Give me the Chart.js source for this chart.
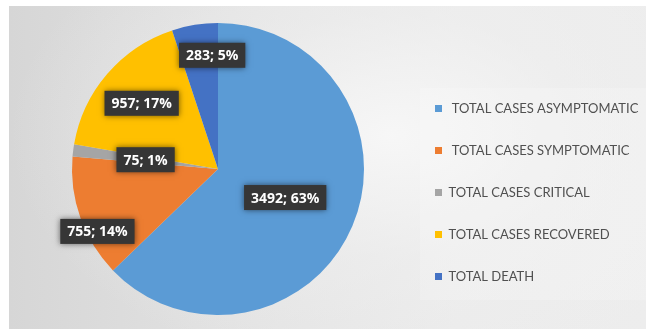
<!DOCTYPE html>
<html>
<head>
<meta charset="utf-8">
<script src="https://cdn.jsdelivr.net/npm/chart.js@4.4.0/dist/chart.umd.min.js"></script>
<style>
  html, body { margin: 0; padding: 0; background: #fff; }
  #wrap { position: relative; width: 646px; height: 331px; overflow: hidden; }
  #bg {
    position: absolute; left: 9px; top: 6px; right: 0; bottom: 2px;
    background:
      radial-gradient(ellipse 60% 75% at 60% 40%, rgba(248,248,248,0.9) 0%, rgba(240,240,240,0.5) 50%, rgba(230,230,230,0) 100%),
      linear-gradient(90deg, #d6d6d6 0%, #e2e2e2 35%, #ebebeb 70%, #ededed 100%);
  }
  #legendBg {
    position: absolute; left: 420px; top: 88px; width: 226px; height: 212px;
    background: rgba(255,255,255,0.18);
  }
  canvas { position: absolute; left: 0; top: 0; }
</style>
</head>
<body>
<div id="wrap">
  <div id="bg"></div>
  <div id="legendBg"></div>
  <canvas id="pie" width="646" height="331"></canvas>
</div>
<script>
const categories = [
  " TOTAL CASES ASYMPTOMATIC",
  " TOTAL CASES SYMPTOMATIC",
  "TOTAL CASES CRITICAL",
  "TOTAL CASES RECOVERED",
  "TOTAL DEATH"
];
const cases = [3492, 755, 75, 957, 283];
const sliceColors = ["#5b9bd5", "#ed7d31", "#a5a5a5", "#ffc000", "#4472c4"];
// label spot per slice: [share of the way along the arc, share of the radius]
const labelSpots = [[0.5, 0.5], [0.34, 0.93], [0.5, 0.5], [0.5, 0.69], [0.84, 0.78]];

const total = cases.reduce((a, b) => a + b, 0);

// dark value boxes "n; p%" on each slice
const valueLabels = {
  id: "valueLabels",
  afterDatasetsDraw(chart) {
    const ctx = chart.ctx;
    const meta = chart.getDatasetMeta(0);
    ctx.save();
    ctx.font = 'bold 14px "Open Sans"';
    ctx.textAlign = "center";
    ctx.textBaseline = "middle";
    meta.data.forEach(function (arc, i) {
      const p = arc.getProps(["x", "y", "startAngle", "endAngle", "outerRadius"], true);
      const a = p.startAngle + (p.endAngle - p.startAngle) * labelSpots[i][0];
      const r = p.outerRadius * labelSpots[i][1];
      const x = p.x + Math.cos(a) * r;
      const y = p.y + Math.sin(a) * r;
      const text = cases[i] + "; " + Math.round(cases[i] / total * 100) + "%";
      const w = ctx.measureText(text).width + 14;
      const h = 25;
      ctx.shadowColor = "rgba(0,0,0,0.55)";
      ctx.shadowBlur = 6;
      ctx.fillStyle = "#363636";
      ctx.fillRect(x - w / 2, y - h / 2, w, h);
      ctx.shadowColor = "transparent";
      ctx.shadowBlur = 0;
      ctx.fillStyle = "#ffffff";
      ctx.fillText(text, x, y + 1);
    });
    ctx.restore();
  }
};

// put the legend column to the right of the pie
const legendSpot = {
  id: "legendSpot",
  afterLayout(chart) {
    const lg = chart.legend;
    lg.left = 406;
    lg.right = 646;
    lg.top = 73;
    lg.bottom = 331;
  }
};

new Chart(document.getElementById("pie"), {
  type: "pie",
  data: {
    labels: categories,
    datasets: [{
      data: cases,
      backgroundColor: sliceColors,
      borderWidth: 0,
      hoverOffset: 0
    }]
  },
  options: {
    responsive: false,
    animation: false,
    events: [],
    layout: { padding: { left: 0, right: 210, top: 23, bottom: 16 } },
    plugins: {
      tooltip: { enabled: false },
      legend: {
        position: "chartArea",
        align: "start",
        labels: {
          boxWidth: 7,
          boxHeight: 7,
          padding: 29,
          color: "#505050",
          font: { family: "Lato", size: 13 }
        }
      }
    }
  },
  plugins: [valueLabels, legendSpot]
});
</script>
</body>
</html>
